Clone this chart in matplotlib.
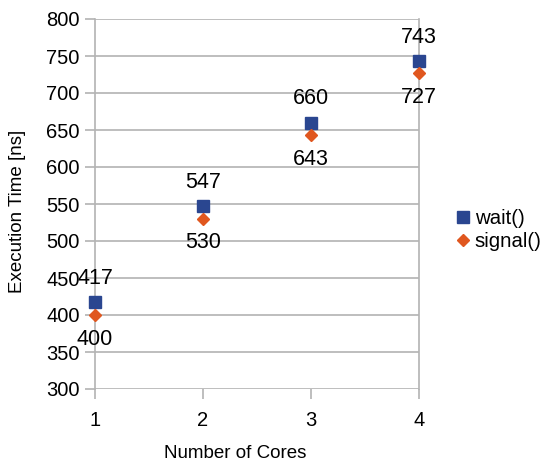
import numpy as np
import matplotlib.pyplot as plt

plt.rcParams['font.family'] = ['Liberation Sans', 'DejaVu Sans']

# datos
cores = [1, 2, 3, 4]
wait_ns = [417, 547, 660, 743]
signal_ns = [400, 530, 643, 727]

gris = '#b3b3b3'
azul = '#2a4690'
naranja = '#e0571f'

fig = plt.figure(figsize=(5.47, 4.63), dpi=100)
ax = fig.add_axes([95 / 547, 1 - 389 / 463, (419 - 95) / 547, (389 - 19) / 463])

ax.plot(cores, wait_ns, 's', color=azul, markersize=9.3, label='wait()', clip_on=False, zorder=3)
ax.plot(cores, signal_ns, 'D', color=naranja, markersize=6.4, label='signal()', clip_on=False, zorder=3)

for x, y in zip(cores, wait_ns):
    ax.annotate(str(y), (x, y), xytext=(0, 17.3), textcoords='offset points',
                ha='center', va='center', fontsize=15.5)
for x, y in zip(cores, signal_ns):
    ax.annotate(str(y), (x, y), xytext=(0, -17.3), textcoords='offset points',
                ha='center', va='center', fontsize=15.5)

ax.set_xlim(1, 4)
ax.set_ylim(300, 800)
ax.set_xticks(cores)
ax.set_yticks(np.arange(300, 801, 50))
ax.tick_params(axis='both', labelsize=14.5, color=gris, length=7, width=1.2)
ax.tick_params(axis='x', pad=9)
ax.tick_params(axis='y', pad=4)

ax.grid(axis='y', color=gris, linewidth=1.2)
ax.set_axisbelow(True)
for lado in ['top', 'bottom']:
    ax.spines[lado].set_visible(False)
for lado in ['left', 'right']:
    ax.spines[lado].set_color(gris)
    ax.spines[lado].set_linewidth(1.2)

ax.set_xlabel('Number of Cores', fontsize=13.5, va='center')
ax.xaxis.set_label_coords((235 - 95) / 324, (389 - 454) / 370)
ax.set_ylabel('Execution Time [ns]', fontsize=13.5, va='center')
ax.yaxis.set_label_coords((18 - 95) / 324, (389 - 211) / 370)

ax.legend(loc='center left', bbox_to_anchor=(1.115, 0.43), frameon=False,
          fontsize=14.7, handletextpad=0.2, handlelength=0.7, labelspacing=0.2,
          borderpad=0, borderaxespad=0)

fig.savefig('out.png', dpi=100)
